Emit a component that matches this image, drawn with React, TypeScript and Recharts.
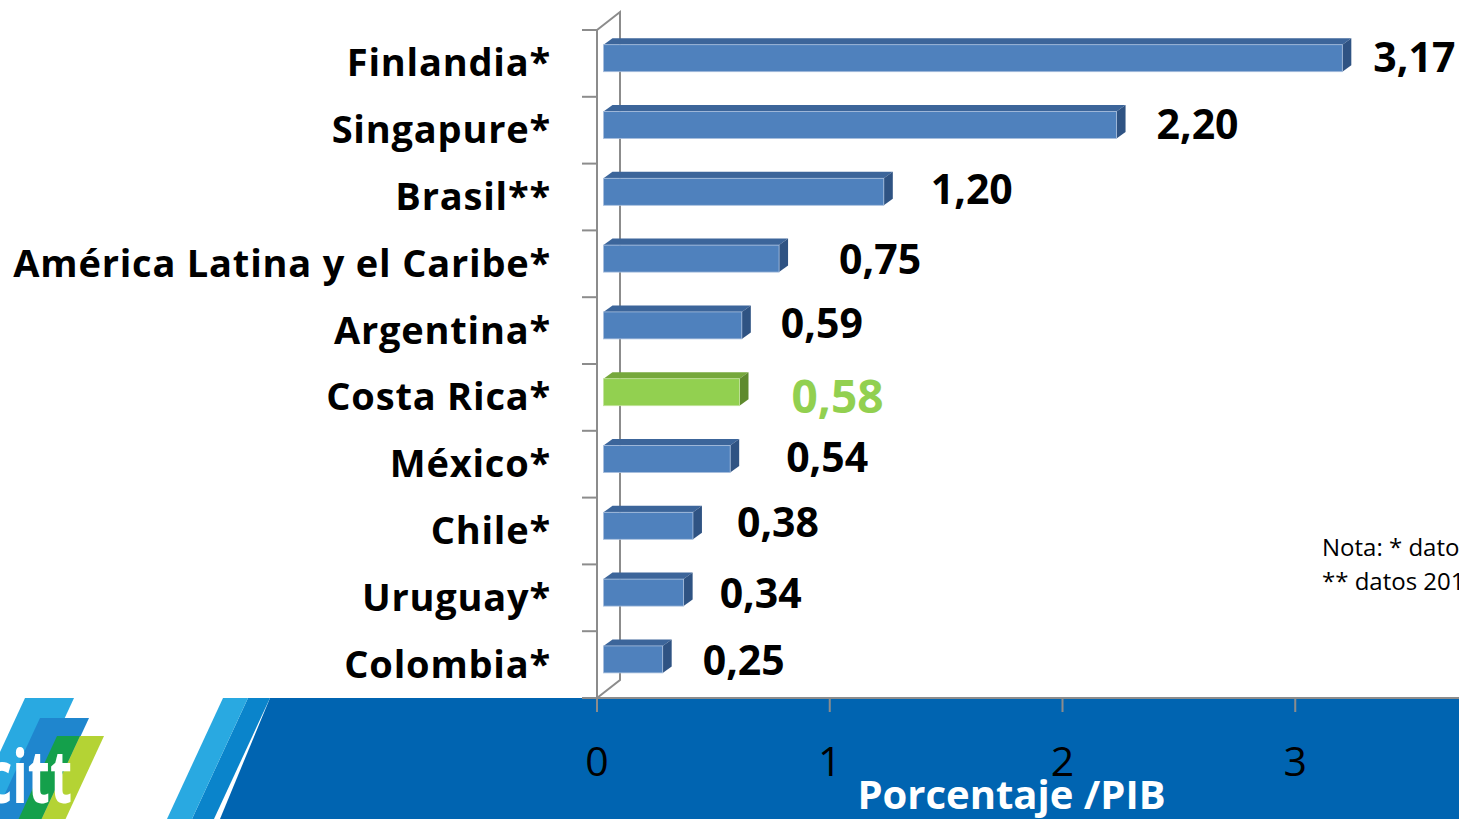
import React from "react";
import { BarChart, Bar, XAxis, YAxis, Cell, LabelList, Label } from "recharts";

const categories = [
  "Finlandia*",
  "Singapure*",
  "Brasil**",
  "América Latina y el Caribe*",
  "Argentina*",
  "Costa Rica*",
  "México*",
  "Chile*",
  "Uruguay*",
  "Colombia*",
];
const values = [3.17, 2.2, 1.2, 0.75, 0.59, 0.58, 0.54, 0.38, 0.34, 0.25];
const highlighted = "Costa Rica*";
const xTicks = [0, 1, 2, 3];
const notes = ["Nota: * datos 2011", "** datos 2010"];

// hand-placed label nudges, like the source slide (px after bar end / below band centre)
const labelGap = [22, 31, 38, 51, 30, 43, 47, 35, 27, 31];
const labelDrop = [8, 9, 7, 10, 7, 15, 8, 6, 10, 10];

const W = 1459;
const H = 819;
const PLOT_LEFT = 597;
const PLOT_TOP = 30;
const PLOT_BOTTOM = 698;
const BAND = (PLOT_BOTTOM - PLOT_TOP) / categories.length;
const FONT = "'Open Sans', 'Noto Sans', sans-serif";

const BLUE = "#4F81BD";
const GREEN = "#92D050";
const palettes: Record<string, { top: string; side: string; edge: string }> = {
  [BLUE]: { top: "#3C659A", side: "#2F5383", edge: "#A7BEDD" },
  [GREEN]: { top: "#76A83C", side: "#5E8A2D", edge: "#C4E39C" },
};

const DEPTH_X = 9;
const DEPTH_Y = -6.5;

const data = categories.map((name, i) => ({ name, value: values[i] }));

const fmt = (v: number) => v.toFixed(2).replace(".", ",");

function Bar3D(props: any) {
  const { x, y, width, height, fill } = props;
  const pal = palettes[fill] ?? palettes[BLUE];
  const x0 = x + 6.5;
  const x1 = x + width + 7.5;
  const yT = y - 5.3;
  const yB = yT + height;
  return (
    <g>
      <polygon
        points={`${x0},${yT} ${x0 + DEPTH_X},${yT + DEPTH_Y} ${x1 + DEPTH_X},${yT + DEPTH_Y} ${x1},${yT}`}
        fill={pal.top}
      />
      <polygon
        points={`${x1},${yT} ${x1 + DEPTH_X},${yT + DEPTH_Y} ${x1 + DEPTH_X},${yB + DEPTH_Y} ${x1},${yB}`}
        fill={pal.side}
      />
      <rect x={x0} y={yT} width={x1 - x0} height={height} fill={fill} stroke={pal.edge} strokeWidth={0.8} />
    </g>
  );
}

function ValueLabel(props: any) {
  const { x, y, width, height, value } = props;
  let i = props.index;
  if (i === undefined || i === null) i = values.indexOf(value);
  const isHi = categories[i] === highlighted;
  const cy = y + height / 2;
  return (
    <text
      x={x + width + 7.5 + DEPTH_X + labelGap[i]}
      y={cy + labelDrop[i]}
      fontFamily={FONT}
      fontWeight={700}
      fontSize={isHi ? 46 : 41}
      fill={isHi ? GREEN : "#000"}
    >
      {fmt(value)}
    </text>
  );
}

function CategoryTick(props: any) {
  const { x, y, payload, index } = props;
  const last = index === categories.length - 1;
  return (
    <g>
      <line x1={x - 15} x2={x} y1={y - BAND / 2} y2={y - BAND / 2} stroke="#8C8C8C" strokeWidth={2} />
      {last && <line x1={x - 15} x2={x} y1={y + BAND / 2} y2={y + BAND / 2} stroke="#8C8C8C" strokeWidth={2} />}
      <text
        x={x - 46}
        y={y + 13}
        textAnchor="end"
        fontFamily={FONT}
        fontWeight={700}
        fontSize={38}
        letterSpacing={0.8}
        fill="#000"
      >
        {payload.value}
      </text>
    </g>
  );
}

function ValueTick(props: any) {
  const { x, payload } = props;
  return (
    <text x={x} y={776} textAnchor="middle" fontFamily={FONT} fontSize={41} fill="#000">
      {payload.value}
    </text>
  );
}

function Backdrop() {
  const slope = 0.463;
  const band = (tx0: number, tx1: number, y0: number) => {
    const d = (H - y0) * slope;
    return `${tx0},${y0} ${tx1},${y0} ${tx1 - d},${H} ${tx0 - d},${H}`;
  };
  return (
    <svg width={W} height={H} style={{ position: "absolute", left: 0, top: 0 }}>
      <rect width={W} height={H} fill="#fff" />
      {/* slide footer band */}
      <polygon points={`270,698 ${W},698 ${W},${H} 220,${H}`} fill="#0064B1" />
      <polygon points={band(248, 270, 698)} fill="#0A84CB" />
      <polygon points={band(223, 248, 698)} fill="#29A9E1" />
      {/* logo */}
      <polygon points={band(25, 74, 698)} fill="#29A9E1" />
      <polygon points={band(40, 89, 718)} fill="#1F86CE" />
      <polygon points={band(57, 80, 736)} fill="#14A04B" />
      <polygon points={band(80, 104, 736)} fill="#B4D334" />
      <text
        x={-14}
        y={803}
        textLength={86}
        lengthAdjust="spacingAndGlyphs"
        fontFamily={FONT}
        fontWeight={700}
        fontSize={74}
        fill="#fff"
      >
        citt
      </text>
      {/* 3D wall edges */}
      <path
        d={`M${PLOT_LEFT} ${PLOT_TOP} L620 12 L620 680 L${PLOT_LEFT} ${PLOT_BOTTOM}`}
        fill="none"
        stroke="#8C8C8C"
        strokeWidth={2}
      />
      {notes.map((n, i) => (
        <text key={n} x={1322} y={556 + i * 34} fontFamily={FONT} fontSize={24} fill="#000">
          {n}
        </text>
      ))}
    </svg>
  );
}

export default function App() {
  return (
    <div style={{ position: "absolute", left: 0, top: 0, width: W, height: H, overflow: "hidden" }}>
      <Backdrop />
      <div style={{ position: "absolute", left: 0, top: 0 }}>
        <BarChart
          width={1530}
          height={H}
          data={data}
          layout="vertical"
          margin={{ top: PLOT_TOP, right: 2, bottom: 21, left: 0 }}
        >
          <XAxis
            type="number"
            domain={[0, 4]}
            ticks={xTicks}
            height={100}
            axisLine={{ stroke: "#8C8C8C", strokeWidth: 2 }}
            tickLine={{ stroke: "#8C8C8C", strokeWidth: 2 }}
            tickSize={14}
            tick={<ValueTick />}
          >
            <Label
              content={(p: any) => {
                const vb = p.viewBox || {};
                return (
                  <text
                    x={(vb.x ?? PLOT_LEFT) + (vb.width ?? 931) / 2 - 51}
                    y={809}
                    textAnchor="middle"
                    fontFamily={FONT}
                    fontWeight={700}
                    fontSize={40}
                    fill="#fff"
                  >
                    Porcentaje /PIB
                  </text>
                );
              }}
            />
          </XAxis>
          <YAxis
            type="category"
            dataKey="name"
            width={PLOT_LEFT}
            axisLine={{ stroke: "#8C8C8C", strokeWidth: 2 }}
            tickLine={false}
            tickSize={0}
            tickMargin={0}
            interval={0}
            tick={<CategoryTick />}
          />
          <Bar dataKey="value" barSize={27} shape={<Bar3D />} isAnimationActive={false}>
            {data.map((d) => (
              <Cell key={d.name} fill={d.name === highlighted ? GREEN : BLUE} />
            ))}
            <LabelList dataKey="value" content={<ValueLabel />} />
          </Bar>
        </BarChart>
      </div>
    </div>
  );
}
